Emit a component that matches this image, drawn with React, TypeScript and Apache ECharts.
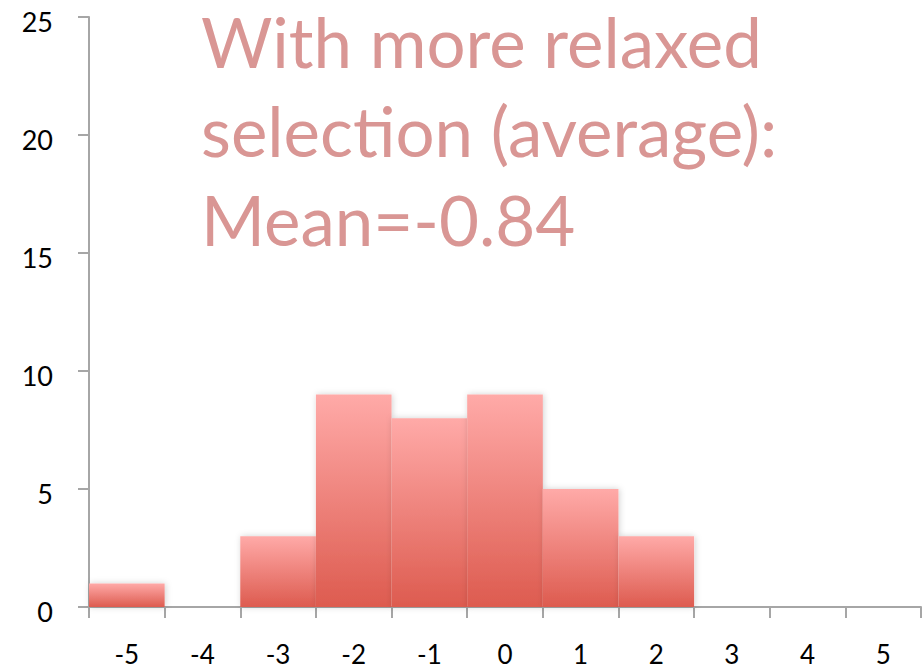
import React, { useEffect, useRef } from "react";
import * as echarts from "echarts";

const categories = ["-5", "-4", "-3", "-2", "-1", "0", "1", "2", "3", "4", "5"];
const counts = [1, 0, 3, 9, 8, 9, 5, 3, 0, 0, 0];
const yTicks = { min: 0, max: 25, interval: 5 };
const titleLines = ["With more relaxed", "selection (average):", "Mean=-0.84"];

export default function App() {
  const ref = useRef<HTMLDivElement>(null);
  useEffect(() => {
    if (!ref.current) return;
    const chart = echarts.init(ref.current, null, { renderer: "svg" });
    chart.setOption({
      animation: false,
      grid: { left: 89, top: 17, right: 3, bottom: 64, containLabel: false },
      xAxis: {
        type: "category",
        data: categories,
        boundaryGap: true,
        axisLine: { lineStyle: { color: "#A6A6A6", width: 2 } },
        axisTick: { show: true, length: 11, interval: 0, lineStyle: { color: "#A6A6A6", width: 2 } },
        axisLabel: { interval: 0, color: "#000", fontSize: 26, lineHeight: 26, fontFamily: "Lato", margin: 34 },
        splitLine: { show: false },
      },
      yAxis: {
        type: "value",
        min: yTicks.min,
        max: yTicks.max,
        interval: yTicks.interval,
        axisLine: { show: true, lineStyle: { color: "#A6A6A6", width: 2 } },
        axisTick: { show: true, length: 11, lineStyle: { color: "#A6A6A6", width: 2 } },
        axisLabel: { color: "#000", fontSize: 27, fontFamily: "Lato", margin: 36, verticalAlign: "top", padding: [-9, 0, 0, 0] },
        splitLine: { show: false },
      },
      series: [
        {
          type: "bar",
          data: counts,
          barCategoryGap: "0%",
          itemStyle: {
            color: new echarts.graphic.LinearGradient(0, 0, 0, 1, [
              { offset: 0, color: "#FFAAA8" },
              { offset: 1, color: "#DD5B4F" },
            ]),
            shadowBlur: 6,
            shadowColor: "rgba(0,0,0,0.18)",
            shadowOffsetX: 1,
            shadowOffsetY: 0,
          },
        },
      ],
      graphic: [
        {
          type: "text",
          left: 201,
          top: -3,
          style: {
            text: titleLines.join("\n"),
            fill: "#D99694",
            font: "69px Lato",
            lineHeight: 89,
          },
        },
      ],
    });
    return () => chart.dispose();
  }, []);
  return <div ref={ref} style={{ width: 924, height: 671, position: "absolute", left: 0, top: 0 }} />;
}
